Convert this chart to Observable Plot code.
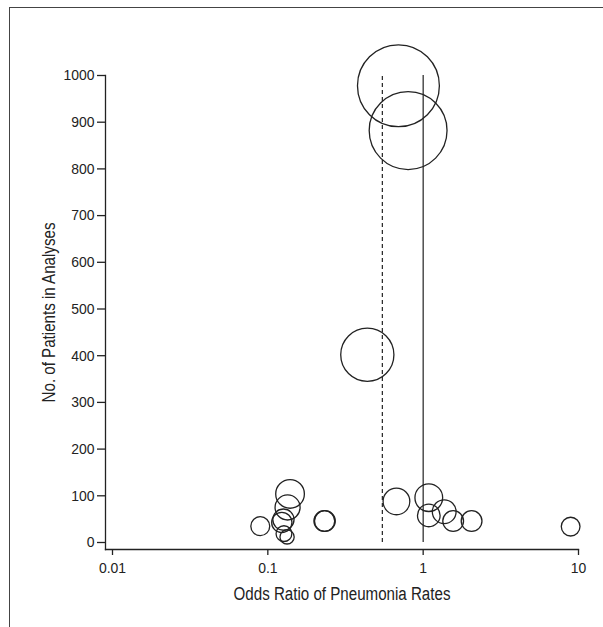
<!DOCTYPE html>
<html>
<head>
<meta charset="utf-8">
<script src="https://cdn.jsdelivr.net/npm/d3@7"></script>
<script src="https://cdn.jsdelivr.net/npm/@observablehq/plot@0.6"></script>
<style>
  html, body { margin: 0; padding: 0; background: #fff; }
  #wrap { position: relative; width: 603px; height: 627px; overflow: hidden; }
  #box { position: absolute; left: 9px; top: 7px; width: 700px; height: 700px;
         border-left: 1.5px solid #444; border-top: 1.5px solid #444; }
  #chart { position: absolute; left: 0; top: 0; }
</style>
</head>
<body>
<div id="wrap"><div id="box"></div><div id="chart"></div></div>
<script>
// Study odds ratios (x) and number of patients (y)
const oddsRatio = [0.693, 0.80, 0.437, 0.139, 0.134, 0.126, 0.123, 0.127, 0.133, 0.0894, 0.231, 0.233, 0.673, 1.087, 1.087, 1.366, 1.56, 2.05, 8.9];
const patients  = [978,   882,  402,   104,   75,    49,    43,    19,    12,    35,     46,    46,    88,    96,    58,    66,    46,   46,   34];
// Reference lines: null effect and pooled estimate
const nullOR = [1];
const pooledOR = [0.546];
const xTicks = [0.01, 0.1, 1, 10];
const yTicks = [0, 100, 200, 300, 400, 500, 600, 700, 800, 900, 1000];
const xLabel = "Odds Ratio of Pneumonia Rates";
const yLabel = "No. of Patients in Analyses";

const sizeOffset = 18; // weight offset so smallest studies stay visible

const studies = oddsRatio.map((or, i) => ({or, n: patients[i]}));
const ink = "#222";

const chart = Plot.plot({
  width: 603,
  height: 627,
  marginLeft: 105,
  marginRight: 25,
  marginTop: 75,
  marginBottom: 78,
  style: {fontFamily: "'Liberation Sans', Arial, sans-serif", fontSize: "15px", color: ink, background: "transparent"},
  x: {type: "log", domain: [0.01, 10], range: [112, 578]},
  y: {domain: [0, 1000], range: [542, 75]},
  r: {type: "sqrt", domain: [0, 1000 + sizeOffset], range: [0, 41.4]},
  marks: [
    Plot.frame({anchor: "left", stroke: ink, strokeWidth: 1.3}),
    Plot.frame({anchor: "bottom", stroke: ink, strokeWidth: 1.3}),
    Plot.axisX({ticks: xTicks, tickFormat: d => String(d), tickSize: 6, tickPadding: 7, stroke: ink, strokeWidth: 1.3,
                label: xLabel, labelAnchor: "center", labelOffset: 50, labelArrow: "none"}),
    Plot.axisY({ticks: yTicks, tickFormat: d => String(d), tickSize: 8, tickPadding: 3, stroke: ink, strokeWidth: 1.3,
                label: yLabel, labelAnchor: "center", labelOffset: 63, labelArrow: "none"}),
    Plot.ruleX(pooledOR, {y1: yTicks[0], y2: yTicks[yTicks.length - 1], stroke: ink, strokeWidth: 1.2, strokeDasharray: "4,3"}),
    Plot.ruleX(nullOR, {y1: yTicks[0], y2: yTicks[yTicks.length - 1], stroke: ink, strokeWidth: 1.2}),
    Plot.dot(studies, {x: "or", y: "n", r: d => d.n + sizeOffset, stroke: ink, strokeWidth: 1.3, fill: "none"})
  ]
});
document.getElementById("chart").appendChild(chart);
const sel = d3.select(chart);
// tick labels 15px, axis titles 18px
sel.selectAll("text").style("font-size", "15px").attr("data-squeeze", 0.93);
sel.selectAll("g[aria-label='x-axis label'] text, g[aria-label='y-axis label'] text")
  .style("font-size", "18px").attr("data-squeeze", 0.84);
// condensed look (narrow grotesque): squeeze glyphs horizontally
sel.selectAll("text").each(function() {
  const len = this.getComputedTextLength();
  const k = +this.getAttribute("data-squeeze");
  if (len > 0) {
    this.setAttribute("textLength", (len * k).toFixed(1));
    this.setAttribute("lengthAdjust", "spacingAndGlyphs");
  }
});
</script>
</body>
</html>
